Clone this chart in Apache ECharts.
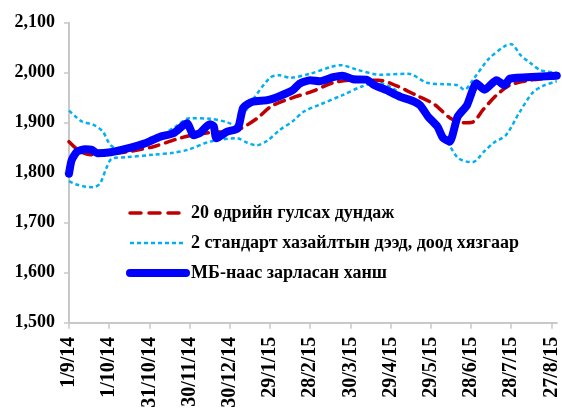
<!DOCTYPE html>
<html>
<head>
<meta charset="utf-8">
<script src="https://cdn.jsdelivr.net/npm/echarts@6/dist/echarts.min.js"></script>
<style>
html,body{margin:0;padding:0;background:#fff;}
#c{width:562px;height:415px;}
</style>
</head>
<body>
<div id="c"></div>
<script>
// x-axis tick labels (every 30 days from 1/9/14)
const tickDays = [0,30,60,90,120,150,180,210,240,270,300,330,360];
const tickLabels = ['1/9/14','1/10/14','31/10/14','30/11/14','30/12/14','29/1/15','28/2/15','30/3/15','29/4/15','29/5/15','28/6/15','28/7/15','27/8/15'];

const seriesNames = ['20 өдрийн гулсах дундаж','2 стандарт хазайлтын дээд, доод хязгаар','МБ-наас зарласан ханш'];

// Official rate (days since 1/9/14)
const rateDays = [0,2,6,12,17,21,31,43,58,68,78,88,93,98,105,108,110,118,126,130,137,148,157,167,172,180,187,197,204,212,222,228,237,247,257,262,268,275,279,284,290,297,304,310,319,325,329,349,364];
const rateVals = [1798,1825,1842,1847,1846,1839,1841,1848,1860,1872,1879,1899,1875,1880,1897,1893,1869,1882,1889,1930,1942,1945,1953,1965,1978,1985,1983,1991,1994,1987,1986,1975,1965,1952,1943,1935,1912,1892,1870,1862,1912,1935,1979,1966,1985,1975,1988,1992,1994];

// 20-day moving average
const maDays = [0,8,16,31,46,63,79,90,105,125,140,151,167,182,197,213,231,245,259,273,284,294,301,309,319,329,344,364];
const maVals = [1862,1843,1836,1838,1843,1852,1866,1874,1880,1885,1908,1933,1950,1963,1980,1985,1985,1973,1955,1936,1910,1900,1901,1926,1955,1975,1985,1991];

// Upper band (+2 SD)
const upDays = [0,5,10,18,25,31,37,50,65,80,90,105,118,125,130,137,150,157,165,180,196,203,215,232,253,267,280,290,295,302,313,325,330,337,344,352,364];
const upVals = [1924,1912,1902,1896,1883,1855,1848,1853,1868,1893,1909,1908,1901,1893,1915,1945,1990,1995,1990,1998,2012,2015,2006,1996,1998,1980,1977,1975,1966,1988,2027,2053,2057,2035,2020,2005,2000];

// Lower band (-2 SD)
const loDays = [0,5,12,18,23,28,32,43,63,78,89,105,125,133,140,148,157,167,175,187,204,219,230,242,254,267,272,284,291,301,310,317,326,336,346,354,364];
const loVals = [1783,1777,1772,1771,1778,1810,1828,1831,1836,1840,1846,1862,1869,1860,1855,1864,1885,1903,1922,1936,1955,1973,1980,1968,1943,1920,1903,1854,1828,1821,1843,1860,1875,1920,1960,1974,1983];

const pairs = (d, v) => d.map((x, i) => [x, v[i]]);

const font = 'Liberation Serif';
const hiddenSymbol = {color: 'rgba(0,0,0,0)', borderColor: 'rgba(0,0,0,0)', borderWidth: 0, opacity: 0};
const chart = echarts.init(document.getElementById('c'), null, {renderer: 'canvas'});
chart.setOption({
  animation: false,
  backgroundColor: '#ffffff',
  grid: {left: 69, right: 5.2, top: 22.7, bottom: 92.3, outerBoundsMode: 'none', containLabel: false},
  legend: {
    orient: 'vertical',
    left: 121,
    top: 199,
    itemWidth: 56,
    itemHeight: 14,
    itemGap: 12,
    itemStyle: hiddenSymbol,
    textStyle: {fontFamily: font, fontWeight: 'bold', fontSize: 18, color: '#000'},
    data: [
      {name: seriesNames[0], itemStyle: hiddenSymbol, lineStyle: {color: '#c00000', width: 3.5, type: [11, 8]}},
      {name: seriesNames[1], itemStyle: hiddenSymbol, lineStyle: {color: '#00b0f0', width: 2.5, type: [4, 3]}},
      {name: seriesNames[2], itemStyle: hiddenSymbol, lineStyle: {color: '#0000ff', width: 8, cap: 'round'}}
    ]
  },
  xAxis: {
    type: 'value',
    min: 0,
    max: 364,
    interval: 30,
    splitLine: {show: false},
    axisLine: {lineStyle: {color: '#c8c8c8', width: 2}},
    axisTick: {show: true, length: 6, customValues: tickDays, lineStyle: {color: '#c8c8c8', width: 1.5}},
    axisLabel: {
      customValues: tickDays,
      rotate: 90,
      margin: 14,
      fontFamily: font,
      fontWeight: 'bold',
      fontSize: 20,
      color: '#000',
      formatter: v => { const i = tickDays.indexOf(v); return i >= 0 ? tickLabels[i] : ''; }
    }
  },
  yAxis: {
    type: 'value',
    min: 1500,
    max: 2100,
    interval: 100,
    splitLine: {show: false},
    axisLine: {show: true, lineStyle: {color: '#c8c8c8', width: 2}},
    axisTick: {show: true, length: 5, lineStyle: {color: '#c8c8c8', width: 1.5}},
    axisLabel: {
      margin: 14,
      fontFamily: font,
      fontWeight: 'bold',
      fontSize: 18,
      color: '#000',
      formatter: v => v.toLocaleString('en-US')
    }
  },
  series: [
    {
      name: seriesNames[1], type: 'line', symbol: 'none', smooth: 0.3,
      data: pairs(upDays, upVals),
      lineStyle: {color: '#00b0f0', width: 2.5, type: [4, 3]},
      itemStyle: {color: '#00b0f0'}, z: 2
    },
    {
      name: seriesNames[1], type: 'line', symbol: 'none', smooth: 0.3,
      data: pairs(loDays, loVals),
      lineStyle: {color: '#00b0f0', width: 2.5, type: [4, 3]},
      itemStyle: {color: '#00b0f0'}, z: 2
    },
    {
      name: seriesNames[0], type: 'line', symbol: 'none', smooth: 0.3,
      data: pairs(maDays, maVals),
      lineStyle: {color: '#c00000', width: 3.5, type: [10, 7], cap: 'round'},
      itemStyle: {color: '#c00000'}, z: 3
    },
    {
      name: seriesNames[2], type: 'line', symbol: 'none', smooth: 0.2,
      data: pairs(rateDays, rateVals),
      lineStyle: {color: '#0000ff', width: 8, cap: 'round', join: 'round'},
      itemStyle: {color: '#0000ff'}, z: 4
    }
  ]
});
</script>
</body>
</html>
